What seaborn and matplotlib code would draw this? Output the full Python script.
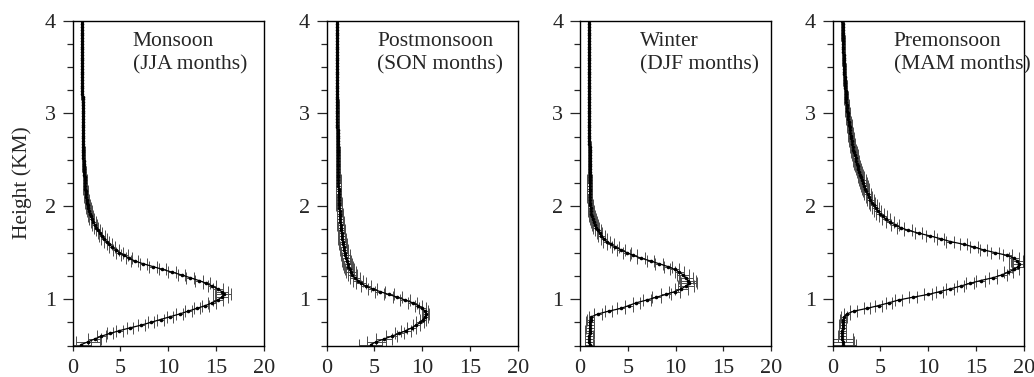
import numpy as np
import pandas as pd
import matplotlib
matplotlib.use("Agg")
import matplotlib.pyplot as plt
from matplotlib.ticker import MultipleLocator
import seaborn as sns

# Measurement levels (km), 30 m spacing
heights_km = np.round(np.arange(0.51, 4.0, 0.03), 2)

season_names = ["Monsoon", "Postmonsoon", "Winter", "Premonsoon"]
season_months = ["(JJA months)", "(SON months)", "(DJF months)", "(MAM months)"]

monsoon = [
    0.9, 1.6, 2.3, 3.0, 3.9, 4.9, 6.0, 7.2, 8.2, 9.2,
    10.2, 11.2, 12.1, 13.0, 13.9, 14.6, 15.2, 15.6, 15.8, 15.6,
    15.2, 14.6, 14.0, 13.2, 12.3, 11.4, 10.4, 9.4, 8.4, 7.4,
    6.5, 5.9, 5.4, 4.9, 4.5, 4.15, 3.85, 3.55, 3.3, 3.05,
    2.85, 2.65, 2.45, 2.3, 2.15, 2.0, 1.9, 1.8, 1.72, 1.64,
    1.57, 1.52, 1.47, 1.43, 1.39, 1.36, 1.33, 1.30, 1.28, 1.26,
    1.24, 1.22, 1.20, 1.18, 1.16, 1.15, 1.14, 1.13, 1.12, 1.11,
    1.10, 1.09, 1.09, 1.08, 1.08, 1.07, 1.07, 1.06, 1.06, 1.06,
    1.05, 1.05, 1.05, 1.04, 1.04, 1.04, 1.03, 1.03, 1.03, 1.03,
    1.02, 1.02, 1.02, 1.02, 1.01, 1.01, 1.01, 1.01, 1.00, 1.00,
    1.00, 1.00, 0.99, 0.99, 0.99, 0.99, 0.98, 0.98, 0.98, 0.98,
    0.97, 0.97, 0.97, 0.97, 0.96, 0.96, 0.96,
]
monsoon_err = [
    1.0, 1.3, 0.7, 0.5, 0.35, 0.35, 0.35, 0.35, 0.35, 0.35,
    0.35, 0.35, 0.35, 0.35, 0.4, 0.45, 0.55, 0.7, 0.8, 0.7,
    0.5, 0.45, 0.4, 0.4, 0.4, 0.4, 0.4, 0.4, 0.4, 0.4,
    0.35, 0.35, 0.35, 0.35, 0.3, 0.3, 0.3, 0.3, 0.3, 0.3,
    0.25, 0.25, 0.25, 0.25, 0.25, 0.25, 0.25, 0.25, 0.25, 0.25,
    0.2, 0.2, 0.2, 0.2, 0.2, 0.2, 0.2, 0.2, 0.2, 0.2,
    0.15, 0.15, 0.15, 0.15, 0.15, 0.15, 0.15, 0.15, 0.15, 0.15,
    0.1, 0.1, 0.1, 0.1, 0.1, 0.1, 0.1, 0.1, 0.1, 0.1,
    0.1, 0.1, 0.1, 0.1, 0.1, 0.1, 0.1, 0.1, 0.1, 0.1,
    0.1, 0.1, 0.1, 0.1, 0.1, 0.1, 0.1, 0.1, 0.1, 0.1,
    0.1, 0.1, 0.1, 0.1, 0.1, 0.1, 0.1, 0.1, 0.1, 0.1,
    0.1, 0.1, 0.1, 0.1, 0.1, 0.1, 0.1,
]

postmonsoon = [
    4.6, 5.2, 6.0, 6.8, 7.6, 8.3, 8.9, 9.4, 9.8, 10.1,
    10.3, 10.4, 10.3, 10.0, 9.6, 9.0, 8.2, 7.4, 6.5, 5.6,
    4.8, 4.1, 3.6, 3.25, 2.95, 2.7, 2.55, 2.4, 2.28, 2.18,
    2.1, 2.02, 1.95, 1.88, 1.82, 1.77, 1.72, 1.67, 1.63, 1.59,
    1.55, 1.52, 1.49, 1.46, 1.43, 1.41, 1.39, 1.37, 1.35, 1.33,
    1.31, 1.30, 1.28, 1.27, 1.26, 1.25, 1.24, 1.23, 1.22, 1.21,
    1.20, 1.20, 1.19, 1.19, 1.18, 1.18, 1.17, 1.17, 1.16, 1.16,
    1.16, 1.15, 1.15, 1.15, 1.14, 1.14, 1.14, 1.14, 1.13, 1.13,
    1.13, 1.12, 1.12, 1.12, 1.12, 1.12, 1.12, 1.11, 1.11, 1.11,
    1.11, 1.11, 1.11, 1.11, 1.10, 1.10, 1.10, 1.10, 1.10, 1.10,
    1.10, 1.10, 1.10, 1.09, 1.09, 1.09, 1.09, 1.09, 1.09, 1.09,
    1.09, 1.09, 1.08, 1.08, 1.08, 1.08, 1.08,
]
postmonsoon_err = [
    1.2, 1.0, 0.8, 0.6, 0.5, 0.5, 0.45, 0.4, 0.4, 0.35,
    0.35, 0.3, 0.3, 0.35, 0.4, 0.45, 0.5, 0.5, 0.5, 0.5,
    0.5, 0.5, 0.5, 0.5, 0.5, 0.5, 0.5, 0.45, 0.45, 0.45,
    0.45, 0.45, 0.45, 0.4, 0.4, 0.4, 0.4, 0.4, 0.4, 0.35,
    0.35, 0.35, 0.35, 0.35, 0.35, 0.3, 0.3, 0.3, 0.3, 0.3,
    0.3, 0.3, 0.25, 0.25, 0.25, 0.25, 0.25, 0.25, 0.25, 0.25,
    0.2, 0.2, 0.2, 0.2, 0.2, 0.2, 0.2, 0.2, 0.2, 0.2,
    0.15, 0.15, 0.15, 0.15, 0.15, 0.15, 0.15, 0.15, 0.15, 0.15,
    0.12, 0.12, 0.12, 0.12, 0.12, 0.12, 0.12, 0.12, 0.12, 0.12,
    0.12, 0.12, 0.12, 0.12, 0.12, 0.12, 0.12, 0.12, 0.12, 0.12,
    0.12, 0.12, 0.12, 0.12, 0.12, 0.12, 0.12, 0.12, 0.12, 0.12,
    0.12, 0.12, 0.12, 0.12, 0.12, 0.12, 0.12,
]

winter = [
    1.0, 0.95, 0.95, 0.95, 1.0, 1.0, 1.05, 1.05, 1.05, 1.1,
    1.2, 1.9, 3.0, 4.3, 5.1, 5.9, 7.0, 8.0, 9.0, 9.9,
    10.6, 11.1, 11.4, 11.3, 11.1, 10.8, 10.4, 9.9, 9.2, 8.3,
    7.4, 6.4, 5.6, 4.9, 4.3, 3.7, 3.2, 2.8, 2.5, 2.25,
    2.05, 1.85, 1.7, 1.55, 1.45, 1.35, 1.27, 1.2, 1.15, 1.1,
    1.07, 1.05, 1.04, 1.03, 1.02, 1.02, 1.01, 1.01, 1.0, 1.0,
    1.0, 1.0, 1.0, 1.0, 1.0, 1.0, 1.0, 1.0, 1.0, 1.0,
    1.0, 1.0, 0.99, 0.99, 0.99, 0.99, 0.98, 0.98, 0.98, 0.98,
    0.98, 0.97, 0.97, 0.97, 0.97, 0.97, 0.97, 0.97, 0.97, 0.97,
    0.97, 0.97, 0.97, 0.97, 0.96, 0.96, 0.96, 0.96, 0.96, 0.96,
    0.96, 0.96, 0.96, 0.96, 0.96, 0.96, 0.96, 0.96, 0.96, 0.96,
    0.95, 0.95, 0.95, 0.95, 0.95, 0.95, 0.95,
]
winter_err = [
    0.45, 0.45, 0.45, 0.45, 0.45, 0.45, 0.45, 0.4, 0.4, 0.35,
    0.3, 0.4, 0.4, 0.4, 0.4, 0.4, 0.4, 0.45, 0.5, 0.6,
    0.7, 0.8, 0.8, 0.8, 0.7, 0.6, 0.5, 0.45, 0.4, 0.4,
    0.4, 0.4, 0.4, 0.4, 0.4, 0.35, 0.35, 0.35, 0.35, 0.35,
    0.3, 0.3, 0.3, 0.3, 0.3, 0.3, 0.3, 0.3, 0.3, 0.3,
    0.25, 0.25, 0.25, 0.25, 0.25, 0.25, 0.25, 0.25, 0.25, 0.25,
    0.2, 0.2, 0.2, 0.2, 0.2, 0.2, 0.2, 0.2, 0.2, 0.2,
    0.1, 0.1, 0.1, 0.1, 0.1, 0.1, 0.1, 0.1, 0.1, 0.1,
    0.1, 0.1, 0.1, 0.1, 0.1, 0.1, 0.1, 0.1, 0.1, 0.1,
    0.1, 0.1, 0.1, 0.1, 0.1, 0.1, 0.1, 0.1, 0.1, 0.1,
    0.1, 0.1, 0.1, 0.1, 0.1, 0.1, 0.1, 0.1, 0.1, 0.1,
    0.1, 0.1, 0.1, 0.1, 0.1, 0.1, 0.1,
]

premonsoon = [
    1.1, 1.05, 1.0, 1.0, 1.0, 1.0, 1.05, 1.05, 1.1, 1.1,
    1.2, 1.5, 2.2, 3.6, 4.8, 5.9, 6.9, 8.4, 10.0, 11.2,
    12.3, 13.4, 14.4, 15.5, 16.8, 17.7, 18.4, 19.0, 19.4, 19.5,
    19.3, 19.0, 18.3, 17.0, 15.8, 14.8, 13.7, 12.3, 11.3, 10.2,
    9.0, 7.9, 7.1, 6.5, 6.0, 5.6, 5.25, 4.95, 4.7, 4.5,
    4.3, 4.1, 3.95, 3.8, 3.65, 3.5, 3.4, 3.3, 3.2, 3.1,
    3.0, 2.9, 2.8, 2.7, 2.6, 2.5, 2.45, 2.4, 2.3, 2.2,
    2.15, 2.1, 2.05, 2.0, 1.95, 1.9, 1.85, 1.8, 1.76, 1.72,
    1.68, 1.64, 1.6, 1.56, 1.53, 1.5, 1.47, 1.44, 1.41, 1.39,
    1.37, 1.35, 1.33, 1.31, 1.29, 1.27, 1.25, 1.23, 1.22, 1.20,
    1.19, 1.18, 1.16, 1.15, 1.14, 1.13, 1.12, 1.11, 1.10, 1.09,
    1.08, 1.07, 1.06, 1.05, 1.04, 1.03, 1.02,
]
premonsoon_err = [
    1.3, 1.2, 1.1, 0.4, 0.35, 0.35, 0.35, 0.35, 0.3, 0.3,
    0.3, 0.35, 0.35, 0.35, 0.35, 0.35, 0.35, 0.4, 0.4, 0.4,
    0.4, 0.4, 0.4, 0.45, 0.45, 0.5, 0.5, 0.5, 0.6, 0.6,
    0.6, 0.5, 0.45, 0.4, 0.4, 0.4, 0.4, 0.4, 0.4, 0.4,
    0.4, 0.4, 0.4, 0.4, 0.4, 0.4, 0.4, 0.4, 0.4, 0.4,
    0.35, 0.35, 0.35, 0.35, 0.35, 0.35, 0.35, 0.35, 0.35, 0.35,
    0.3, 0.3, 0.3, 0.3, 0.3, 0.3, 0.3, 0.3, 0.3, 0.3,
    0.25, 0.25, 0.25, 0.25, 0.25, 0.25, 0.25, 0.25, 0.25, 0.25,
    0.2, 0.2, 0.2, 0.2, 0.2, 0.2, 0.2, 0.2, 0.2, 0.2,
    0.15, 0.15, 0.15, 0.15, 0.15, 0.15, 0.15, 0.15, 0.15, 0.15,
    0.15, 0.15, 0.15, 0.15, 0.15, 0.15, 0.15, 0.15, 0.15, 0.15,
    0.15, 0.15, 0.15, 0.15, 0.15, 0.15, 0.15,
]

profiles = [monsoon, postmonsoon, winter, premonsoon]
profile_errs = [monsoon_err, postmonsoon_err, winter_err, premonsoon_err]
label_x = [6.3, 5.3, 6.3, 6.4]

x_ticks = [0, 5, 10, 15, 20]
y_ticks = [1, 2, 3, 4]

sns.set_style("ticks")
plt.rcParams["font.family"] = ["Liberation Serif", "DejaVu Serif"]
plt.rcParams["font.size"] = 15

fig = plt.figure(figsize=(10.34, 3.77), dpi=100)
lefts_px = [72.7, 326.7, 580.0, 832.7]
W, H = 1034.0, 377.0

for k in range(4):
    ax = fig.add_axes([lefts_px[k] / W, 31.5 / H, 191.0 / W, 325.0 / H])
    df = pd.DataFrame({"value": profiles[k], "height": heights_km, "err": profile_errs[k]})

    ax.errorbar(df["value"], df["height"], xerr=df["err"], fmt="none",
                ecolor="0.3", elinewidth=0.7, capsize=4, capthick=0.7, zorder=2)
    sns.lineplot(data=df, x="value", y="height", sort=False, estimator=None,
                 orient="y", color="black", linewidth=0.9, marker="o",
                 markersize=2.6, markeredgewidth=0, ax=ax, zorder=3)

    ax.set_xlim(0, 20)
    ax.set_ylim(0.5, 4)
    ax.set_xticks(x_ticks)
    ax.set_yticks(y_ticks)
    ax.yaxis.set_minor_locator(MultipleLocator(0.25))
    ax.set_xlabel("")
    ax.set_ylabel("")
    ax.tick_params(axis="y", which="major", direction="out", length=7, width=0.9,
                   pad=5, labelsize=16)
    ax.tick_params(axis="y", which="minor", direction="out", length=4, width=0.9)
    ax.tick_params(axis="x", which="major", direction="out", length=3.5, width=0.9,
                   pad=6, labelsize=16)
    for sp in ax.spines.values():
        sp.set_visible(True)
        sp.set_linewidth(1.0)
        sp.set_color("black")

    ax.text(label_x[k], 3.88, season_names[k] + "\n" + season_months[k],
            ha="left", va="top", fontsize=15.5, linespacing=1.3)

fig.text(22 / W, 1 - 183 / H, "Height (KM)", rotation=90, ha="center",
         va="center", fontsize=15.5)

fig.savefig("out.png", dpi=100, facecolor="white")
